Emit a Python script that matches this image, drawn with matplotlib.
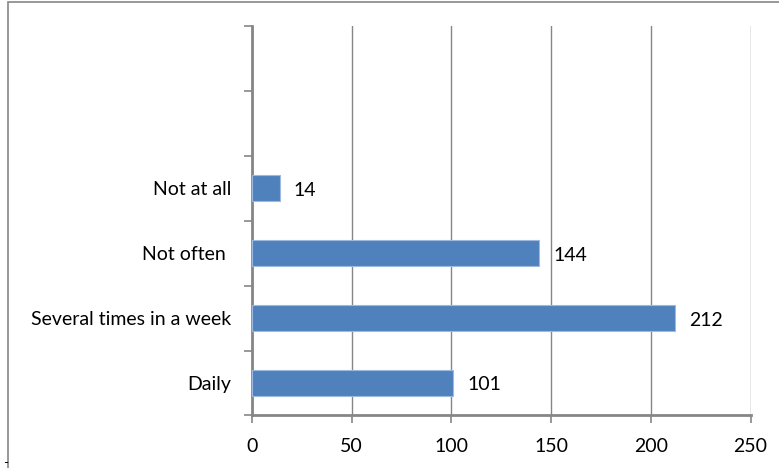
import matplotlib as mpl

mpl.use('Agg')

import matplotlib.pyplot as plt
from matplotlib.patches import Rectangle
import numpy as np

# data (bottom to top)
categories = ['Daily', 'Several times in a week', 'Not often ', 'Not at all']
values = [101, 212, 144, 14]
n_slots = 6  # two empty slots at the top of the chart
x_ticks = [0, 50, 100, 150, 200, 250]

plt.rcParams['font.family'] = ['Lato', 'DejaVu Sans']

fig = plt.figure(figsize=(7.79, 4.68), dpi=100)
ax = fig.add_axes([0.3235, 0.1122, 0.64, 0.8322])

grey = '#868686'
pos = np.arange(len(categories))
ax.barh(pos, values, height=0.4, color='#4F81BD', edgecolor='#9DB9DF',
        linewidth=0.8, zorder=3)

for p, v in zip(pos, values):
    ax.text(v + 7, p - 0.03, str(v), va='center', ha='left', fontsize=14, color='black')

ax.set_xlim(0, 250)
ax.set_ylim(-0.5, n_slots - 0.5)
ax.set_xticks(x_ticks)
ax.set_xticklabels([str(t) for t in x_ticks], fontsize=14)
ax.grid(axis='x', color=grey, linewidth=1.0, zorder=0)

# tick marks at slot borders, labels at slot centres
ax.set_yticks(np.arange(-0.5, n_slots, 1.0))
ax.set_yticklabels([])
ax.set_yticks(pos, minor=True)
ax.set_yticklabels(categories, minor=True, fontsize=14)
ax.tick_params(axis='y', which='minor', length=0, pad=15)
ax.tick_params(axis='y', which='major', length=6, width=1.2, color=grey)
ax.tick_params(axis='x', length=6, width=1.2, color=grey, pad=10)

for side in ['top', 'right']:
    ax.spines[side].set_visible(False)
for side in ['left', 'bottom']:
    ax.spines[side].set_color(grey)
    ax.spines[side].set_linewidth(2)

# outer chart border (cropped)
fig.patches.append(Rectangle((8 / 779, -0.1), 1.2, 1 - 2.5 / 468 + 0.1,
                             transform=fig.transFigure, fill=False,
                             edgecolor=grey, linewidth=1.2))
fig.text(3 / 779, 1 - 463 / 468, '-', fontsize=10, va='center', ha='left')

plt.savefig('out.png', dpi=100)
